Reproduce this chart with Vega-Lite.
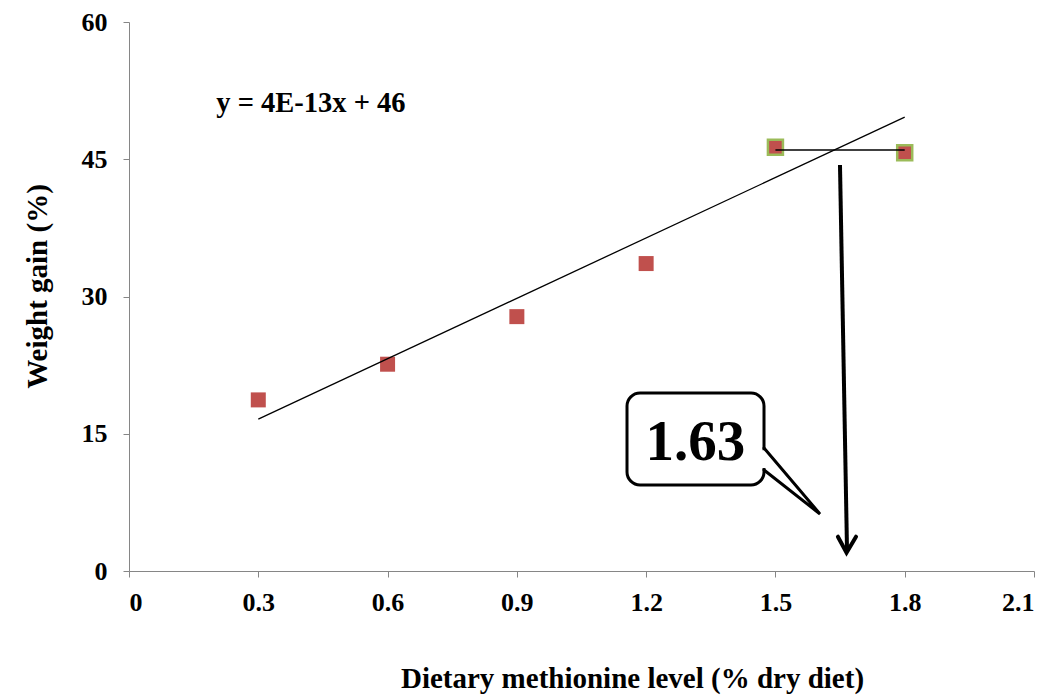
{
  "$schema": "https://vega.github.io/schema/vega-lite/v6.json",
  "width": 905,
  "height": 549,
  "autosize": {"type": "none"},
  "padding": {"left": 129, "top": 22, "right": 23, "bottom": 124},
  "background": "white",
  "config": {
    "view": {"stroke": null},
    "font": "Liberation Serif",
    "axis": {
      "grid": false,
      "domainColor": "#868686",
      "tickColor": "#868686",
      "tickSize": 6,
      "labelFont": "Liberation Serif",
      "labelFontWeight": "bold",
      "labelFontSize": 26,
      "labelColor": "black",
      "titleFont": "Liberation Serif",
      "titleFontWeight": "bold",
      "titleFontSize": 29,
      "titleColor": "black"
    }
  },
  "layer": [
    {
      "data": {"values": [
        {"x": 0.3, "y": 18.7},
        {"x": 0.6, "y": 22.6},
        {"x": 0.9, "y": 27.8},
        {"x": 1.2, "y": 33.6},
        {"x": 1.5, "y": 46.3},
        {"x": 1.8, "y": 45.7}
      ]},
      "mark": {"type": "point", "shape": "square", "filled": true, "size": 225, "color": "#C0504D", "opacity": 1},
      "encoding": {
        "x": {"field": "x", "type": "quantitative", "scale": {"domain": [0, 2.1], "nice": false, "zero": false},
          "axis": {"values": [0, 0.3, 0.6, 0.9, 1.2, 1.5, 1.8, 2.1], "format": "~g", "labelPadding": 12,
            "title": "Dietary methionine level (% dry diet)", "titleX": 503, "titleAlign": "center", "titleY": 116, "titleBaseline": "alphabetic"}},
        "y": {"field": "y", "type": "quantitative", "scale": {"domain": [0, 60], "nice": false},
          "axis": {"values": [0, 15, 30, 45, 60], "labelPadding": 16,
            "title": "Weight gain (%)", "titleX": -83, "titleY": 264, "titleBaseline": "alphabetic", "titleAngle": -90}}
      }
    },
    {
      "data": {"values": [
        {"x": 1.5, "y": 46.3},
        {"x": 1.8, "y": 45.7}
      ]},
      "mark": {"type": "point", "shape": "square", "filled": false, "size": 225, "stroke": "#9BBB59", "strokeWidth": 2.5, "opacity": 1},
      "encoding": {
        "x": {"field": "x", "type": "quantitative"},
        "y": {"field": "y", "type": "quantitative"}
      }
    },
    {
      "data": {"values": [
        {"x": 0.3, "y": 16.6},
        {"x": 1.8, "y": 49.6}
      ]},
      "mark": {"type": "line", "color": "black", "strokeWidth": 1.3},
      "encoding": {
        "x": {"field": "x", "type": "quantitative"},
        "y": {"field": "y", "type": "quantitative"}
      }
    },
    {
      "data": {"values": [
        {"x": 1.5, "y": 46.0},
        {"x": 1.8, "y": 46.0}
      ]},
      "mark": {"type": "line", "color": "black", "strokeWidth": 1.5},
      "encoding": {
        "x": {"field": "x", "type": "quantitative"},
        "y": {"field": "y", "type": "quantitative"}
      }
    },
    {
      "data": {"values": [
        {"x": 1.6498, "y": 44.37, "x2": 1.6661, "y2": 2.3}
      ]},
      "mark": {"type": "rule", "color": "black", "strokeWidth": 4},
      "encoding": {
        "x": {"field": "x", "type": "quantitative"},
        "y": {"field": "y", "type": "quantitative"},
        "x2": {"field": "x2"},
        "y2": {"field": "y2"}
      }
    },
    {
      "data": {"values": [
        {"i": 1, "x": 1.645, "y": 3.75},
        {"i": 2, "x": 1.665, "y": 2.0},
        {"i": 3, "x": 1.687, "y": 3.75}
      ]},
      "mark": {"type": "line", "color": "black", "strokeWidth": 4, "strokeJoin": "miter", "strokeCap": "round"},
      "encoding": {
        "x": {"field": "x", "type": "quantitative"},
        "y": {"field": "y", "type": "quantitative"},
        "order": {"field": "i"}
      }
    },
    {
      "data": {"values": [
        {"x": 1.1556, "x2": 1.4735, "y": 19.45, "y2": 9.4}
      ]},
      "mark": {"type": "rect", "fill": "white", "stroke": "black", "strokeWidth": 3, "cornerRadius": 13},
      "encoding": {
        "x": {"field": "x", "type": "quantitative"},
        "x2": {"field": "x2"},
        "y": {"field": "y", "type": "quantitative"},
        "y2": {"field": "y2"}
      }
    },
    {
      "data": {"values": [
        {"x": 1.4735, "y": 13.2, "y2": 11.25}
      ]},
      "mark": {"type": "rule", "color": "white", "strokeWidth": 5},
      "encoding": {
        "x": {"field": "x", "type": "quantitative"},
        "y": {"field": "y", "type": "quantitative"},
        "y2": {"field": "y2"}
      }
    },
    {
      "data": {"values": [
        {"i": 1, "x": 1.4735, "y": 13.44},
        {"i": 2, "x": 1.6034, "y": 6.23},
        {"i": 3, "x": 1.4735, "y": 11.04}
      ]},
      "mark": {"type": "line", "color": "black", "strokeWidth": 3, "strokeJoin": "miter", "strokeCap": "round"},
      "encoding": {
        "x": {"field": "x", "type": "quantitative"},
        "y": {"field": "y", "type": "quantitative"},
        "order": {"field": "i"}
      }
    },
    {
      "data": {"values": [
        {"x": 1.3143, "y": 12.13, "label": "1.63"}
      ]},
      "mark": {"type": "text", "font": "Liberation Serif", "fontWeight": "bold", "fontSize": 57, "align": "center", "baseline": "alphabetic", "color": "black"},
      "encoding": {
        "x": {"field": "x", "type": "quantitative"},
        "y": {"field": "y", "type": "quantitative"},
        "text": {"field": "label"}
      }
    },
    {
      "data": {"values": [
        {"x": 0.2025, "y": 50.2, "label": "y = 4E-13x + 46"}
      ]},
      "mark": {"type": "text", "font": "Liberation Serif", "fontWeight": "bold", "fontSize": 28.5, "align": "left", "baseline": "alphabetic", "color": "black"},
      "encoding": {
        "x": {"field": "x", "type": "quantitative"},
        "y": {"field": "y", "type": "quantitative"},
        "text": {"field": "label"}
      }
    }
  ]
}
